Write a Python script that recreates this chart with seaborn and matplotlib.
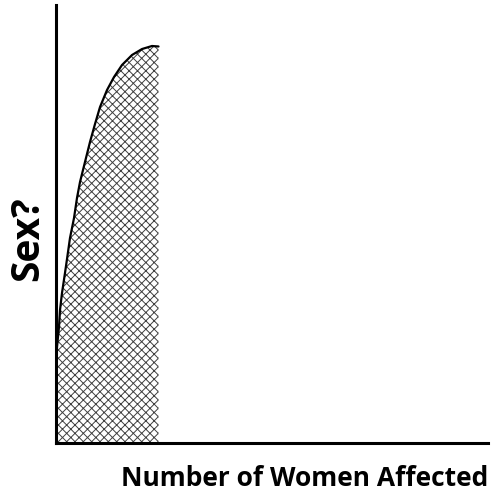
import numpy as np
import pandas as pd
import matplotlib
matplotlib.use("Agg")
import matplotlib.pyplot as plt
import seaborn as sns

# ===============================
# data
# ===============================

women = [0.0, 0.023, 0.069, 0.093, 0.139, 0.208, 0.255, 0.324, 0.417, 0.486,
         0.556, 0.671, 0.787, 0.903, 1.019, 1.181, 1.343, 1.528, 1.759, 1.991,
         2.222, 2.373]
sex = [1.553, 2.192, 2.648, 3.037, 3.425, 3.881, 4.201, 4.680, 5.137, 5.594,
       5.959, 6.416, 6.872, 7.283, 7.671, 8.059, 8.356, 8.630, 8.858, 8.995,
       9.064, 9.053]

x_label = "Number of Women Affected"
y_label = "Sex?"

df = pd.DataFrame({"women": women, "sex": sex})

# ===============================
# style
# ===============================

sns.set_style("white")
plt.rcParams["font.family"] = ["Open Sans", "DejaVu Sans"]
plt.rcParams["hatch.linewidth"] = 0.7
plt.rcParams["hatch.color"] = "#404040"

fig = plt.figure(figsize=(4.92, 4.94), dpi=100)
ax = fig.add_axes([56 / 492, 51 / 494, 432 / 492, 438 / 494])

ax.fill_between(df["women"], df["sex"], 0, facecolor="white",
                edgecolor="#404040", hatch="xxxx", linewidth=0)
sns.lineplot(data=df, x="women", y="sex", ax=ax, color="black",
             linewidth=1.6, sort=False)

ax.set_xlim(0, 10)
ax.set_ylim(0, 10)
ax.set_xticks([])
ax.set_yticks([])

for side in ["top", "right"]:
    ax.spines[side].set_visible(False)
for side in ["left", "bottom"]:
    ax.spines[side].set_linewidth(2.2)
    ax.spines[side].set_color("black")

ax.set_xlabel(x_label, fontsize=19, fontweight="bold", color="black")
ax.set_ylabel(y_label, fontsize=28, fontweight="bold", color="black")
ax.xaxis.set_label_coords(1.0, -0.05)
ax.xaxis.label.set_horizontalalignment("right")
ax.yaxis.set_label_coords(-0.02, 0.466)

fig.savefig("out.png", dpi=100)
